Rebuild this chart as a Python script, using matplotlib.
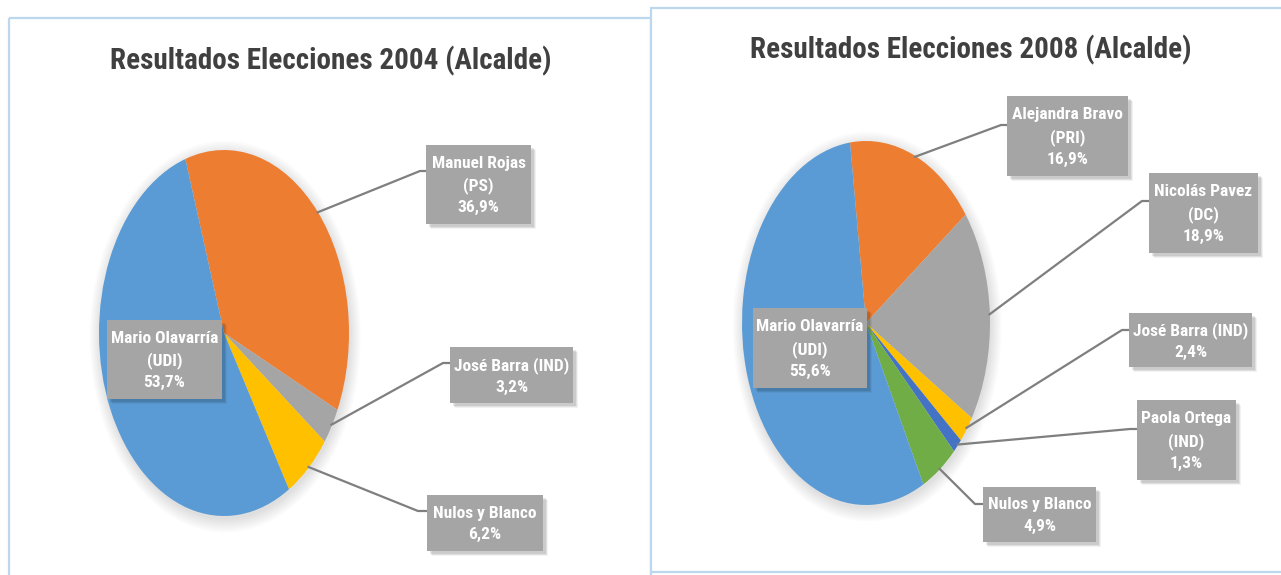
import numpy as np
import matplotlib.pyplot as plt
from matplotlib.patches import Rectangle, Ellipse

# datos 2004
cand_2004 = ['Manuel Rojas\n(PS)', 'José Barra (IND)', 'Nulos y Blanco', 'Mario Olavarría\n(UDI)']
pct_2004 = [36.9, 3.2, 6.2, 53.7]
col_2004 = ['#ED7D31', '#A5A5A5', '#FFC000', '#5B9BD5']

# datos 2008
cand_2008 = ['Alejandra Bravo\n(PRI)', 'Nicolás Pavez\n(DC)', 'José Barra (IND)',
             'Paola Ortega\n(IND)', 'Nulos y Blanco', 'Mario Olavarría\n(UDI)']
pct_2008 = [16.9, 18.9, 2.4, 1.3, 4.9, 55.6]
col_2008 = ['#ED7D31', '#A5A5A5', '#FFC000', '#4472C4', '#70AD47', '#5B9BD5']

FONT = ['Roboto Condensed', 'DejaVu Sans']
W, H = 1281, 575

fig = plt.figure(figsize=(W / 100, H / 100), dpi=100)


def pix_axes(z):
    a = fig.add_axes([0, 0, 1, 1])
    a.set_xlim(0, W)
    a.set_ylim(H, 0)
    a.axis('off')
    a.set_zorder(z)
    a.patch.set_visible(False)
    return a


bg = pix_axes(0)
fg = pix_axes(10)

# marcos de los dos graficos
bg.add_patch(Rectangle((9, 18), 642, 600, fill=False, ec='#BDD7EE', lw=1.6, zorder=1))
bg.add_patch(Rectangle((651, 8), 640, 564, fc='white', ec='#BDD7EE', lw=1.6, zorder=2))


def box(x0, y0, x1, y1, txt):
    for k, a in [(5, 0.05), (4, 0.07), (3, 0.09)]:
        fg.add_patch(Rectangle((x0 + k, y0 + k), x1 - x0, y1 - y0, fc='black', ec='none',
                               alpha=a, zorder=5))
    fg.add_patch(Rectangle((x0, y0), x1 - x0, y1 - y0, fc='#A5A5A5', ec='none', zorder=6))
    fg.text((x0 + x1) / 2, (y0 + y1) / 2 + 1, txt.replace('.', ','), ha='center', va='center',
            color='white', fontsize=12.5, fontweight='bold', family=FONT, linespacing=1.5,
            zorder=7)


def pie(cx, cy, rx, ry, vals, cols, start):
    m = 1.1
    ax = fig.add_axes([(cx - m * rx) / W, 1 - (cy + m * ry) / H, 2 * m * rx / W, 2 * m * ry / H])
    ax.set_zorder(3)
    for i in range(8):
        ax.add_patch(Ellipse((0.01, -0.02), 2 * (1 + 0.012 * i), 2 * (1 + 0.01 * i),
                             fc='black', ec='none', alpha=0.016, zorder=0))
    wedges, _ = ax.pie(vals, colors=cols, startangle=start, counterclock=False,
                       wedgeprops=dict(linewidth=0))
    ax.set_aspect('auto')
    ax.set_xlim(-m, m)
    ax.set_ylim(-m, m)
    ax.axis('off')
    pts = []
    for w in wedges:
        a = np.deg2rad((w.theta1 + w.theta2) / 2)
        pts.append((cx + rx * 0.99 * np.cos(a), cy - ry * 0.99 * np.sin(a)))
    return pts


def leader(p, elbow, xend):
    fg.plot([p[0], elbow[0], xend], [p[1], elbow[1], elbow[1]], color='#7F7F7F', lw=1.6,
            zorder=4, solid_capstyle='butt')


def title(x, y, s):
    fg.text(x, y, s, ha='center', va='center', fontsize=21, fontweight='bold',
            color='#404040', family=FONT, zorder=3)


# ---- 2004 ----
title(331, 61, 'Resultados Elecciones 2004 (Alcalde)')
p = pie(224, 333, 125, 183, pct_2004, col_2004, 108)
leader(p[0], (420, 171), 426)
leader(p[1], (443, 363), 450)
leader(p[2], (418, 511), 427)
box(426, 145, 531, 224, cand_2004[0] + '\n%.1f%%' % pct_2004[0])
box(450, 347, 573, 403, cand_2004[1] + '\n%.1f%%' % pct_2004[1])
box(427, 495, 543, 551, cand_2004[2] + '\n%.1f%%' % pct_2004[2])
box(107, 320, 222, 399, cand_2004[3] + '\n%.1f%%' % pct_2004[3])

# ---- 2008 ----
title(971, 50, 'Resultados Elecciones 2008 (Alcalde)')
q = pie(866, 323, 124, 182, pct_2008, col_2008, 97.4)
leader(q[0], (1001, 125), 1007)
leader(q[1], (1142, 201), 1149)
leader(q[2], (1122, 330), 1129)
leader(q[3], (1130, 429), 1137)
leader(q[4], (975, 504), 983)
box(1007, 96, 1128, 176, cand_2008[0] + '\n%.1f%%' % pct_2008[0])
box(1149, 173, 1258, 253, cand_2008[1] + '\n%.1f%%' % pct_2008[1])
box(1129, 313, 1252, 367, cand_2008[2] + '\n%.1f%%' % pct_2008[2])
box(1137, 400, 1236, 480, cand_2008[3] + '\n%.1f%%' % pct_2008[3])
box(983, 487, 1096, 542, cand_2008[4] + '\n%.1f%%' % pct_2008[4])
box(753, 308, 867, 388, cand_2008[5] + '\n%.1f%%' % pct_2008[5])

fig.savefig('out.png', dpi=100)
